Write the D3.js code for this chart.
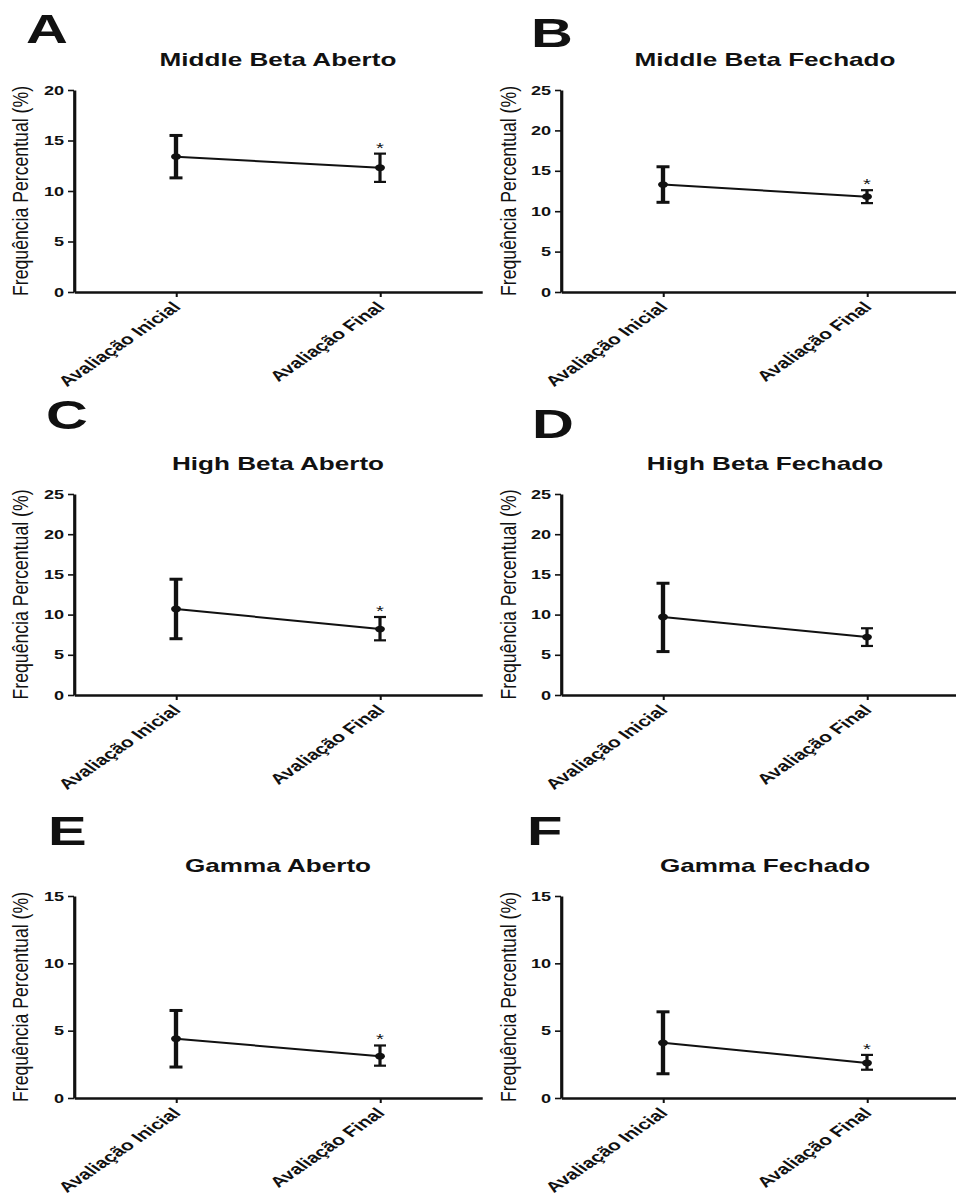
<!DOCTYPE html>
<html>
<head>
<meta charset="utf-8">
<script src="https://cdn.jsdelivr.net/npm/d3@7/dist/d3.min.js"></script>
<style>
  html, body { margin: 0; padding: 0; background: #fff; }
  svg { display: block; }
  text { font-family: "Liberation Sans", Arial, Helvetica, sans-serif; fill: #111; }
</style>
</head>
<body>
<svg id="chart" width="956" height="1200"></svg>
<script>
// ---------------- DATA ----------------
const categories = ["Avaliação Inicial", "Avaliação Final"];
const panelLetters = ["A", "B", "C", "D", "E", "F"];
const panelTitles = ["Middle Beta Aberto", "Middle Beta Fechado", "High Beta Aberto",
                     "High Beta Fechado", "Gamma Aberto", "Gamma Fechado"];
const yMaxValues = [20, 25, 25, 25, 15, 15];
const yTickStep = 5;
const yAxisLabel = "Frequência Percentual (%)";
// mean per panel: [Inicial, Final]
const meanValues  = [[13.4, 12.3], [13.3, 11.8], [10.7, 8.2], [9.7, 7.2], [4.4, 3.1], [4.1, 2.6]];
const upperValues = [[15.5, 13.7], [15.5, 12.6], [14.4, 9.7], [13.9, 8.3], [6.5, 3.9], [6.4, 3.2]];
const lowerValues = [[11.3, 10.9], [11.1, 11.0], [7.0, 6.8], [5.4, 6.1], [2.3, 2.4], [1.8, 2.1]];
const significant = [true, true, true, false, true, true];

// ---------------- LAYOUT ----------------
const sx = 1.45;                 // horizontal stretch of the original figure
const X = px => px / sx;
const colAxisPx = [74, 561];
const rowTopPx = [90, 494, 896];
const rowBottomPx = [292, 695, 1098];
const axisLenPx = 408;
const letterPosPx = [[26, 43], [531, 47], [46, 429], [532, 438], [48, 845], [527, 845]];

const svg = d3.select("#chart");
const root = svg.append("g").attr("transform", `scale(${sx},1)`);

panelTitles.forEach((title, i) => {
  const col = i % 2, row = Math.floor(i / 2);
  const ax = colAxisPx[col];
  const top = rowTopPx[row], bottom = rowBottomPx[row];
  const g = root.append("g");

  const xScale = d3.scalePoint().domain(categories)
    .range([X(ax), X(ax + axisLenPx)]).padding(0.5);
  const yScale = d3.scaleLinear().domain([0, yMaxValues[i]]).range([bottom, top]);

  // panel letter
  g.append("text")
    .attr("x", X(letterPosPx[i][0])).attr("y", letterPosPx[i][1])
    .attr("font-size", 40).attr("font-weight", "bold")
    .text(panelLetters[i]);

  // title
  g.append("text")
    .attr("x", X(ax + axisLenPx / 2)).attr("y", top - 24)
    .attr("text-anchor", "middle")
    .attr("font-size", 18).attr("font-weight", "bold")
    .text(title);

  // y axis
  const yAxis = g.append("g")
    .attr("transform", `translate(${X(ax)},0)`)
    .call(d3.axisLeft(yScale)
      .tickValues(d3.range(0, yMaxValues[i] + 0.001, yTickStep))
      .tickSize(X(6)).tickPadding(X(4)).tickSizeOuter(0));
  yAxis.select(".domain").attr("stroke", "#111").attr("stroke-width", 2.2);
  yAxis.selectAll(".tick line").attr("stroke", "#111").attr("stroke-width", 1.6);
  yAxis.selectAll(".tick text")
    .attr("font-size", 12.5).attr("font-weight", "bold")
    .attr("font-family", "Liberation Sans, Arial, sans-serif").attr("fill", "#111");

  // x axis
  const xAxis = g.append("g")
    .attr("transform", `translate(0,${bottom})`)
    .call(d3.axisBottom(xScale).tickSize(5).tickSizeOuter(0));
  xAxis.select(".domain").attr("stroke", "#111").attr("stroke-width", 2.4);
  xAxis.selectAll(".tick line").attr("stroke", "#111").attr("stroke-width", 1.4);
  xAxis.selectAll(".tick text").remove();

  // rotated category labels
  g.selectAll(".xlab").data(categories).enter().append("text")
    .attr("class", "xlab")
    .attr("text-anchor", "end")
    .attr("font-size", 14.5).attr("font-weight", "bold")
    .attr("transform", d => `translate(${xScale(d) + X(6)},${bottom + 16}) rotate(-45)`)
    .text(d => d);

  // y-axis title
  g.append("text")
    .attr("transform", `translate(${X(ax - (col === 0 ? 46 : 45))},${(top + bottom) / 2}) rotate(-90)`)
    .attr("text-anchor", "middle")
    .attr("font-size", 15)
    .attr("textLength", 210).attr("lengthAdjust", "spacingAndGlyphs")
    .text(yAxisLabel);

  // connecting line
  const pts = categories.map((c, j) => ({ c, j, m: meanValues[i][j], u: upperValues[i][j], l: lowerValues[i][j] }));
  g.append("path")
    .datum(pts)
    .attr("fill", "none").attr("stroke", "#111").attr("stroke-width", 2)
    .attr("d", d3.line().x(d => xScale(d.c)).y(d => yScale(d.m)));

  // error bars
  const capHalf = [X(6.5), X(6)];
  const barW = [3, 2.2];
  const eb = g.selectAll(".eb").data(pts).enter().append("g").attr("class", "eb");
  eb.append("line")
    .attr("x1", d => xScale(d.c)).attr("x2", d => xScale(d.c))
    .attr("y1", d => yScale(d.l)).attr("y2", d => yScale(d.u))
    .attr("stroke", "#111").attr("stroke-width", d => barW[d.j]);
  eb.append("line")
    .attr("x1", d => xScale(d.c) - capHalf[d.j]).attr("x2", d => xScale(d.c) + capHalf[d.j])
    .attr("y1", d => yScale(d.u)).attr("y2", d => yScale(d.u))
    .attr("stroke", "#111").attr("stroke-width", d => barW[d.j]);
  eb.append("line")
    .attr("x1", d => xScale(d.c) - capHalf[d.j]).attr("x2", d => xScale(d.c) + capHalf[d.j])
    .attr("y1", d => yScale(d.l)).attr("y2", d => yScale(d.l))
    .attr("stroke", "#111").attr("stroke-width", d => barW[d.j]);
  eb.append("circle")
    .attr("cx", d => xScale(d.c)).attr("cy", d => yScale(d.m))
    .attr("r", 3.4).attr("fill", "#111");

  // significance asterisk
  if (significant[i]) {
    const d = pts[1];
    g.append("text")
      .attr("x", xScale(d.c)).attr("y", yScale(d.u) - 1)
      .attr("text-anchor", "middle")
      .attr("font-size", 14)
      .attr("fill", "#333")
      .text("*");
  }
});
</script>
</body>
</html>
